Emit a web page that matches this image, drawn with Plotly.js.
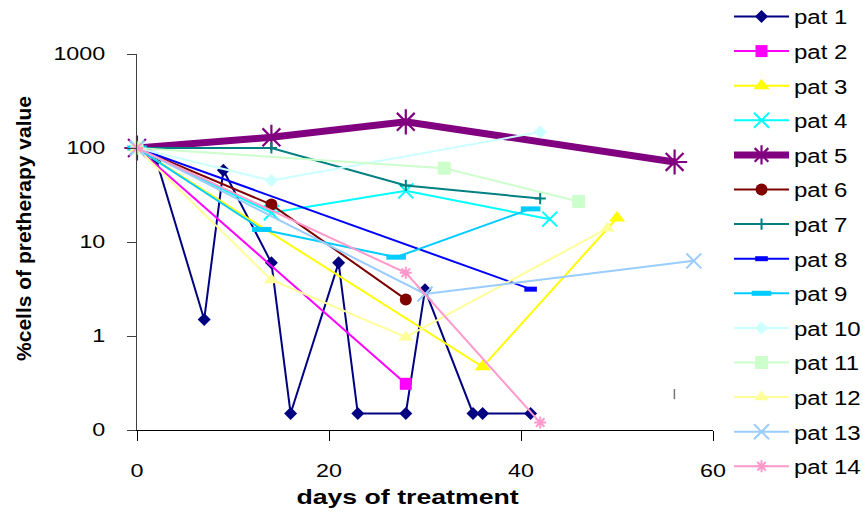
<!DOCTYPE html>
<html>
<head>
<meta charset="utf-8">
<script src="https://cdn.plot.ly/plotly-3.0.1.min.js"></script>
<style>html,body{margin:0;padding:0;background:#fff;}</style>
</head>
<body>
<div id="chart" style="width:863px;height:513px;"></div>
<script>
// Patient labels
const patients = ['pat 1','pat 2','pat 3','pat 4','pat 5','pat 6','pat 7',
                  'pat 8','pat 9','pat 10','pat 11','pat 12','pat 13','pat 14'];

// Days of treatment and % of pretherapy cells, one pair per patient
const days1 = [0, 2, 7, 9, 14, 16, 21, 23, 28, 30, 35, 36, 41];
const vals1 = [100, 75, 1.5, 58, 6, 0.15, 6, 0.15, 0.15, 3.1, 0.15, 0.15, 0.15];
const days2 = [0, 28];
const vals2 = [100, 0.31];
const days3 = [0, 36, 50];
const vals3 = [100, 0.47, 18];
const days4 = [0, 14, 28, 43];
const vals4 = [100, 20.5, 35, 17.5];
const days5 = [0, 14, 28, 56];
const vals5 = [100, 130, 190, 71];
const days6 = [0, 14, 28];
const vals6 = [100, 25, 2.45];
const days7 = [0, 14, 28, 42];
const vals7 = [100, 100, 40, 29];
const days8 = [0, 41];
const vals8 = [100, 3.15];
const days9 = [0, 13, 27, 41];
const vals9 = [100, 13.6, 6.9, 22.5];
const days10 = [0, 14, 42];
const vals10 = [100, 45, 148];
const days11 = [0, 32, 46];
const vals11 = [100, 61, 27];
const days12 = [0, 14, 28, 49];
const vals12 = [100, 3.95, 0.97, 14];
const days13 = [0, 30, 58];
const vals13 = [100, 2.8, 6.3];
const days14 = [0, 28, 42];
const vals14 = [100, 4.7, 0.12];

// Axis ticks
const yTickVals = [0.1, 1, 10, 100, 1000];
const yTickText = ['0', '1', '10', '100', '1000'];
const xTickVals = [0, 20, 40, 60];

const allDays = [days1,days2,days3,days4,days5,days6,days7,days8,days9,days10,days11,days12,days13,days14];
const allVals = [vals1,vals2,vals3,vals4,vals5,vals6,vals7,vals8,vals9,vals10,vals11,vals12,vals13,vals14];

// Per-series look
const styles = [
  {c:'#000080', s:'diamond',      sz:10, lw:2},
  {c:'#FF00FF', s:'square',       sz:12, lw:2},
  {c:'#FFFF00', s:'triangle-up',  sz:14, lw:2},
  {c:'#00FFFF', s:'x-thin',       sz:15, lw:2, ml:2},
  {c:'#800080', s:'asterisk',     sz:21, lw:7, ml:2.2},
  {c:'#800000', s:'circle',       sz:12, lw:2},
  {c:'#008080', s:'cross-thin',   sz:8,  lw:2, ml:2},
  {c:'#0000FF', s:'line-ew',      sz:9,  lw:2, ml:5},
  {c:'#00CCFF', s:'line-ew',      sz:14, lw:2, ml:5},
  {c:'#CCFFFF', s:'diamond',      sz:10, lw:2},
  {c:'#CCFFCC', s:'square',       sz:13, lw:2},
  {c:'#FFFF99', s:'triangle-up',  sz:13, lw:2},
  {c:'#99CCFF', s:'x-thin',       sz:15, lw:2, ml:2},
  {c:'#FF99CC', s:'asterisk',     sz:10, lw:2, ml:2}
];

const traces = patients.map((name, i) => {
  const st = styles[i];
  return {
    type: 'scatter',
    mode: 'lines+markers',
    name: name,
    legendgroup: 'g' + i,
    x: allDays[i],
    y: allVals[i],
    line: {color: st.c, width: st.lw},
    marker: {
      symbol: st.s, size: st.sz, color: st.c,
      line: {color: st.c, width: st.ml !== undefined ? st.ml : 0}
    },
    cliponaxis: false
  };
});

const fontFam = '"Liberation Sans", Arial, sans-serif';

const layout = {
  width: 863, height: 513,
  margin: {l: 137, r: 150, t: 54, b: 83, autoexpand: false},
  paper_bgcolor: '#fff', plot_bgcolor: '#fff',
  font: {family: fontFam, color: '#000', size: 18.5},
  showlegend: true,
  legend: {
    x: 1.0278, xanchor: 'left', y: 1.1516, yanchor: 'top',
    font: {family: fontFam, size: 20, color: '#000'},
    tracegroupgap: 5.6, itemwidth: 55, maxheight: 513,
    bgcolor: 'rgba(0,0,0,0)', borderwidth: 0
  },
  xaxis: {
    range: [0, 60], tickvals: xTickVals, ticks: 'outside', ticklen: 10,
    tickcolor: '#000', showline: true, linecolor: '#000', linewidth: 1,
    showgrid: false, zeroline: false, ticklabelstandoff: 14,
    tickfont: {family: fontFam, size: 18.5, color: '#000'}
  },
  yaxis: {
    type: 'log', range: [-1, 3], tickvals: yTickVals, ticktext: yTickText,
    ticks: 'outside', ticklen: 9, tickcolor: '#404040',
    showline: true, linecolor: '#404040', linewidth: 1,
    showgrid: false, zeroline: false, ticklabelstandoff: 18,
    tickfont: {family: fontFam, size: 18.5, color: '#000'}
  },
  annotations: [
    {text: '<b>days of treatment</b>', xref: 'paper', yref: 'paper',
     x: 0.469, y: -0.178, xanchor: 'center', yanchor: 'middle', showarrow: false,
     font: {family: fontFam, size: 21, color: '#000'}},
    {text: '<b>%cells of pretherapy value</b>', xref: 'paper', yref: 'paper',
     x: -0.196, y: 0.535, xanchor: 'center', yanchor: 'middle', showarrow: false,
     textangle: -90, font: {family: fontFam, size: 21, color: '#000'}}
  ],
  shapes: [
    {type: 'line', xref: 'paper', yref: 'paper', x0: 0.933, x1: 0.933, y0: 0.082, y1: 0.109,
     line: {color: '#777', width: 1.5}}
  ]
};

// Horizontal text is drawn a little wider than the font's natural width,
// keeping each label's anchor (start, middle or end) where it was.
function widen(selector, k) {
  document.querySelectorAll(selector).forEach(t => {
    const before = t.getBBox();
    if (before.width <= 0) return;
    const anchor = t.getAttribute('text-anchor') || getComputedStyle(t).textAnchor || 'start';
    const f = anchor === 'end' ? 1 : (anchor === 'middle' ? 0.5 : 0);
    const w = t.getComputedTextLength();
    t.setAttribute('textLength', (w * k).toFixed(1));
    t.setAttribute('lengthAdjust', 'spacingAndGlyphs');
    const after = t.getBBox();
    const wantLeft = before.x - (after.width - before.width) * f;
    const shift = wantLeft - after.x;
    const x0 = parseFloat(t.getAttribute('x') || '0');
    t.setAttribute('x', (x0 + shift).toFixed(2));
  });
}

Plotly.newPlot('chart', traces, layout, {displayModeBar: false, staticPlot: true}).then(() => {
  // the widened legend labels run past the legend's own clip box
  document.querySelectorAll('#chart .legend [clip-path]').forEach(e => e.removeAttribute('clip-path'));
  widen('#chart .xtick text', 1.26);
  widen('#chart .ytick text', 1.26);
  widen('#chart .legendtext', 1.2);
  widen('#chart .annotation[data-index="0"] text', 1.27);
});
</script>
</body>
</html>
